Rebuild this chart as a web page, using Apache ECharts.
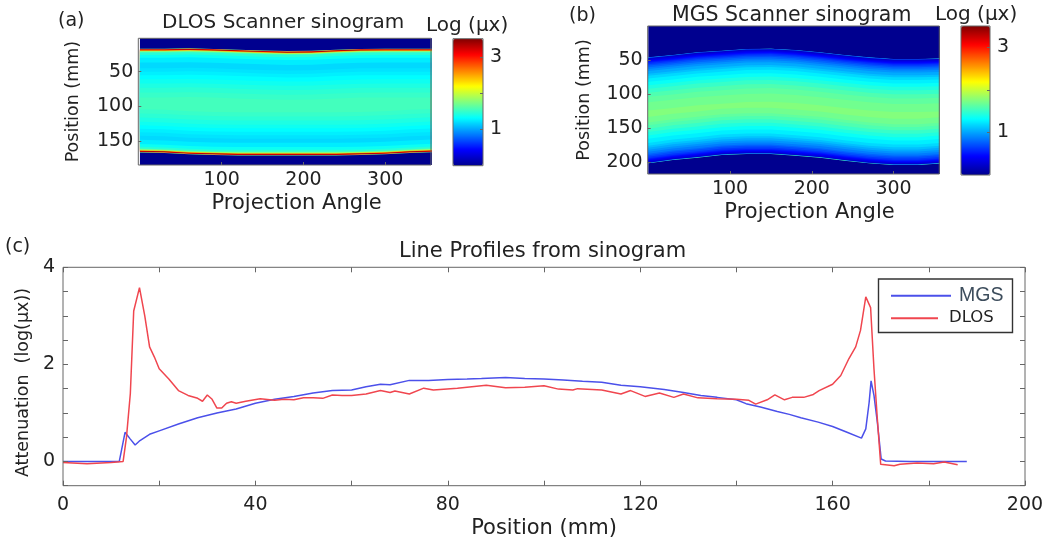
<!DOCTYPE html>
<html><head><meta charset="utf-8">
<style>html,body{margin:0;padding:0;background:#fff}#c{width:1050px;height:543px}</style>
<script src="https://cdn.jsdelivr.net/npm/echarts@6/dist/echarts.min.js"></script>
</head><body><div id="c"></div>
<script>
// Line profiles, [position mm, log(mu x)]
const mgsProfile = [[0,0],[5,0],[11.7,0],[12.2,.25],[12.9,.6],[14,.46],[15,.34],[16,.43],[18,.56],[20,.63],[24,.77],[28,.9],[32,1],[36,1.08],[40,1.2],[44,1.28],[48,1.34],[52,1.41],[56,1.46],[60,1.47],[63,1.54],[66,1.59],[68,1.58],[72,1.67],[76,1.67],[80,1.69],[84,1.7],[87,1.71],[92,1.73],[96,1.71],[100,1.7],[104,1.68],[108,1.65],[112,1.63],[116,1.57],[120,1.54],[125,1.48],[129,1.42],[132.6,1.36],[136,1.32],[140,1.27],[142,1.19],[145,1.12],[148.5,1.03],[151,.97],[153.4,.9],[157,.81],[160,.72],[163,.6],[166,.48],[166.9,.67],[167.6,1.22],[168,1.66],[168.6,1.36],[169.3,.81],[170.1,.05],[171,.01],[176,0],[182,0],[187.9,0]];
const dlosProfile = [[0,-.02],[2,-.03],[5,-.05],[8,-.03],[10,-.02],[12.5,0],[13.2,.5],[14,1.4],[14.7,3.1],[15.9,3.58],[17,3],[18,2.36],[19,2.15],[20,1.91],[22,1.7],[24,1.46],[26,1.36],[28,1.3],[29,1.24],[30,1.37],[31,1.28],[32,1.1],[33,1.1],[34,1.2],[35,1.23],[36,1.2],[38,1.24],[41,1.29],[42,1.28],[44,1.26],[46,1.28],[48,1.27],[50,1.31],[52,1.31],[54,1.3],[56,1.37],[58,1.36],[60,1.36],[63,1.39],[66,1.46],[68,1.42],[69,1.45],[72,1.39],[75,1.51],[77,1.47],[82,1.51],[88,1.57],[92,1.52],[96,1.53],[100,1.56],[103,1.49],[106,1.47],[107,1.5],[112,1.47],[116,1.39],[118,1.46],[121,1.34],[124,1.41],[127,1.32],[129,1.39],[132,1.31],[136,1.29],[140,1.28],[142.6,1.26],[144,1.18],[146.4,1.27],[148,1.37],[150,1.27],[151.6,1.32],[154,1.32],[156,1.38],[157.2,1.46],[160,1.59],[161.7,1.77],[163.4,2.12],[164.8,2.36],[165.8,2.7],[166.9,3.39],[167.9,3.17],[168.6,1.91],[169.3,.88],[170,-.06],[172.8,-.09],[174,-.06],[177.6,-.03],[181,-.05],[183.2,-.01],[186,-.07]];

// Sinogram edges per projection angle (mm)
const sinoAngles = [0,30,60,90,120,150,180,210,240,270,300,330,360];
const dlosTopEdge = [16.9,16.9,16.4,17.2,18.3,19.4,20.2,19.9,18.3,17.2,16.9,16.9,16.9];
const dlosBottomEdge = [165.9,166.8,168.7,169.7,170.2,170.2,170.2,170.2,170.2,169.7,168.7,166.8,165.4];
const mgsTopEdge = [46.1,42.6,38.7,36.3,33.8,33.3,35.3,38.7,42.6,46.1,48.5,48.5,47.5];
const mgsBottomEdge = [201.9,197,193.6,189.7,188.2,188.2,190.7,193.6,198,201.9,204.4,204.4,201.9];
// Colour levels and their depth (mm) inside each edge; the first level is the empty background
const dlosLevels = [0,1.8,3.1,3.35,2.5,1.9,1.6,1.45,1.35,1.25,1.18,1.22,1.26,1.31,1.36,1.41,1.46,1.5,1.54];
const dlosTopDepth = [-300,0,.7,1.4,2.4,3.2,4.2,5.5,9,13,20,28,33,38,44,50,56,63,70];
const dlosBottomDepth = [-300,0,.7,1.4,2.4,3.2,4.2,5.5,8,12,18,24,29,34,39,44,50,56,62];
const mgsLevels = [0,1.55,.8,.22,.3,.38,.46,.54,.62,.7,.78,.86,.94,1.02,1.1,1.18,1.26,1.34,1.42,1.5,1.58,1.64,1.7,1.76];
const mgsTopDepth = [-300,.3,0,.8,2,3.5,5,6.5,8,10,12,14.5,17,20,24,27,31,36,41,46,52,58,66,78];
const mgsBottomDepth = [-300,0,.5,1,1.8,3,4.5,6,7.5,9.5,12,14,17,20,23,26,30,36,41,46,51,56,60,68];

const jetStops = ['#00008f','#0000ff','#0080ff','#00ffff','#80ff80','#ffff00','#ff8000','#ff0000','#800000'];
const FONT = 'DejaVu Sans', INK = '#222', AX = '#666';
const box = {a:[138.3,38.3,292.7,126.7], b:[647.7,26,291.6,148], c:[63,267.3,962,218.4], ca:[453,38.7,30,127], cb:[961,26,29,149]};
const grid = k => ({left:box[k][0],top:box[k][1],width:box[k][2],height:box[k][3],show:true,borderColor:AX,borderWidth:1,backgroundColor:'transparent',z:10,containLabel:false});
const lab = (fs,m) => ({color:INK,fontFamily:FONT,fontSize:fs,margin:m});
const axisCommon = {axisLine:{show:false,onZero:false},splitLine:{show:false},z:11};

function panelAxes(gi, xr, yr, nameGapY, nameShift){
  return {
    x:{type:'value',gridIndex:gi,min:xr[0],max:xr[1],name:'Projection Angle',nameLocation:'middle',nameGap:28,
       nameTextStyle:{color:INK,fontFamily:FONT,fontSize:21,padding:[0,0,0,nameShift]},...axisCommon,
       axisLabel:{...lab(19,6),customValues:[100,200,300]},axisTick:{inside:true,length:3,lineStyle:{color:AX},customValues:[100,200,300]}},
    y:{type:'value',gridIndex:gi,inverse:true,min:yr[0],max:yr[1],name:'Position (mm)',nameLocation:'middle',nameGap:nameGapY,
       nameTextStyle:{color:INK,fontFamily:FONT,fontSize:17.5},...axisCommon,
       axisLabel:{...lab(19,5),customValues:yr[2]},axisTick:{inside:true,length:3,lineStyle:{color:AX},customValues:yr[2]}}
  };
}
const pa = panelAxes(0,[-2,356],[2,184,[50,100,150]],56,24);
const pb = panelAxes(1,[-.7,356],[0,217.6,[50,100,150,200]],54,32);

const sino = (name,gi,levels,topEdge,botEdge,topDepth,botDepth) => ({
  type:'custom',name,coordinateSystem:'cartesian2d',xAxisIndex:gi,yAxisIndex:gi,clip:true,z:2,animation:false,
  data:levels.map((v,i)=>[v,topDepth[i],botDepth[i]]),
  encode:{x:[],y:[]},
  renderItem:(params,api)=>{
    const td=api.value(1), bd=api.value(2), pts=[];
    sinoAngles.forEach((a,j)=>pts.push(api.coord([a,topEdge[j]+td])));
    for(let j=sinoAngles.length-1;j>=0;j--) pts.push(api.coord([sinoAngles[j],botEdge[j]-bd]));
    return {type:'polygon',shape:{points:pts},style:{fill:api.visual('color')}};
  }
});

const titles = [
 ['(a)',58,12,19],['DLOS Scanner sinogram',162,13,20],['Log (μx)',426,16,20],
 ['(b)',569,7,19],['MGS Scanner sinogram',672,5,20.5],['Log (μx)',935,5,20],
 ['(c)',5,238,19],['Line Profiles from sinogram',399,241,21]
];

const option = {
 animation:false,backgroundColor:'#fff',
 title:titles.map(t=>({text:t[0],left:t[1],top:t[2],padding:0,textStyle:{color:INK,fontFamily:FONT,fontWeight:'normal',fontSize:t[3]}})),
 grid:[grid('a'),grid('b'),grid('c'),grid('ca'),grid('cb')],
 visualMap:[
  {type:'continuous',seriesIndex:0,dimension:0,min:0,max:3.5,calculable:false,text:null,showLabel:false,inRange:{color:jetStops},left:box.ca[0],top:box.ca[1],itemWidth:box.ca[2],itemHeight:box.ca[3],padding:0,textGap:0,hoverLink:false,realtime:false},
  {type:'continuous',seriesIndex:1,dimension:0,min:0,max:3.5,calculable:false,text:null,showLabel:false,inRange:{color:jetStops},left:box.cb[0],top:box.cb[1],itemWidth:box.cb[2],itemHeight:box.cb[3],padding:0,textGap:0,hoverLink:false,realtime:false}
 ],
 xAxis:[pa.x,pb.x,
  {type:'value',gridIndex:2,min:0,max:200,interval:20,name:'Position (mm)',nameLocation:'middle',nameGap:32,nameTextStyle:{color:INK,fontFamily:FONT,fontSize:21},...axisCommon,
   axisLabel:{...lab(19,10),formatter:v=>v%40===0?String(v):''},axisTick:{inside:true,length:5,lineStyle:{color:AX}}},
  {type:'value',gridIndex:2,position:'top',min:0,max:200,interval:20,...axisCommon,axisLabel:{show:false},axisTick:{inside:true,length:5,lineStyle:{color:AX}}},
  {type:'value',gridIndex:3,min:0,max:1,show:false},
  {type:'value',gridIndex:4,min:0,max:1,show:false}
 ],
 yAxis:[pa.y,pb.y,
  {type:'value',gridIndex:2,min:-.5,max:4,interval:.5,name:'Attenuation  (log(μx))',nameLocation:'middle',nameGap:30,nameTextStyle:{color:INK,fontFamily:FONT,fontSize:17.5,padding:[0,12,0,0]},...axisCommon,
   axisLabel:{...lab(19,8),formatter:v=>(v===0||v===2||v===4)?String(v):''},axisTick:{inside:true,length:5,lineStyle:{color:AX}}},
  {type:'value',gridIndex:2,position:'right',min:-.5,max:4,interval:.5,...axisCommon,axisLabel:{show:false},axisTick:{inside:true,length:5,lineStyle:{color:AX}}},
  {type:'value',gridIndex:3,position:'right',min:0,max:3.5,...axisCommon,axisLabel:{...lab(19,7),customValues:[1,3]},axisTick:{inside:true,length:3,lineStyle:{color:AX},customValues:[1,2,3]}},
  {type:'value',gridIndex:4,position:'right',min:0,max:3.5,...axisCommon,axisLabel:{...lab(19,7),customValues:[1,3]},axisTick:{inside:true,length:3,lineStyle:{color:AX},customValues:[1,2,3]}}
 ],
 legend:[
  {data:['MGS'],orient:'vertical',left:890,top:285.7,padding:0,itemWidth:60,itemHeight:14,itemStyle:{opacity:0},textStyle:{color:'#3d4d5c',fontFamily:'Liberation Sans',fontSize:19.5,padding:[0,0,0,3]}},
  {data:['DLOS'],orient:'vertical',left:890,top:309.7,padding:0,itemWidth:47,itemHeight:14,itemStyle:{opacity:0},textStyle:{color:'#222',fontFamily:FONT,fontSize:16.5,padding:[0,0,0,6]}}
 ],
 graphic:[{type:'rect',z:100,shape:{x:878.5,y:279,width:134,height:53.5},style:{fill:'transparent',stroke:'#333',lineWidth:1.4},silent:true}],
 series:[
  sino('DLOS sinogram',0,dlosLevels,dlosTopEdge,dlosBottomEdge,dlosTopDepth,dlosBottomDepth),
  sino('MGS sinogram',1,mgsLevels,mgsTopEdge,mgsBottomEdge,mgsTopDepth,mgsBottomDepth),
  {type:'line',name:'MGS',xAxisIndex:2,yAxisIndex:2,data:mgsProfile,showSymbol:false,symbol:'none',lineStyle:{color:'#4b50ea',width:1.5},itemStyle:{color:'#4b50ea'},z:3},
  {type:'line',name:'DLOS',xAxisIndex:2,yAxisIndex:2,data:dlosProfile,showSymbol:false,symbol:'none',lineStyle:{color:'#f0464f',width:1.5},itemStyle:{color:'#f0464f'},z:4}
 ]
};
const chart = echarts.init(document.getElementById('c'),null,{renderer:'canvas'});
chart.setOption(option);
</script></body></html>
